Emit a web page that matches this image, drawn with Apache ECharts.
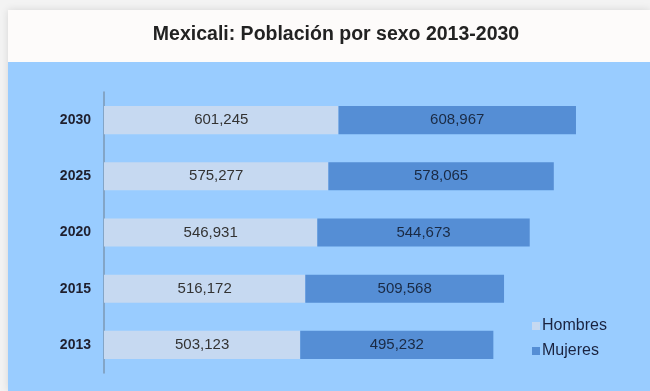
<!DOCTYPE html>
<html>
<head>
<meta charset="utf-8">
<script src="https://cdn.jsdelivr.net/npm/echarts@6/dist/echarts.min.js"></script>
<style>
html,body{margin:0;padding:0;background:#f3f3f3;}
#chart{width:650px;height:391px;}
</style>
</head>
<body>
<div id="chart"></div>
<script>
const categories = ['2013', '2015', '2020', '2025', '2030'];
const hombres = [503123, 516172, 546931, 575277, 601245];
const mujeres = [495232, 509568, 544673, 578065, 608967];
const seriesNames = ['Hombres', 'Mujeres'];

const fmt = v => v.toLocaleString('en-US');
const chart = echarts.init(document.getElementById('chart'));
chart.setOption({
  animation: false,
  backgroundColor: '#f3f3f3',
  graphic: [
    {type: 'rect', shape: {x: 8, y: 10, width: 642, height: 381}, style: {fill: '#fdfbfa', shadowBlur: 8, shadowColor: 'rgba(0,0,0,0.12)'}, z: -10},
    {type: 'rect', shape: {x: 8, y: 62, width: 642, height: 329}, style: {fill: '#99ccff'}, z: -9}
  ],
  title: {
    text: 'Mexicali: Población por sexo 2013-2030',
    left: 331, top: 20, textAlign: 'center',
    textStyle: {fontFamily: 'Liberation Sans, Arial', fontSize: 19.5, fontWeight: 'bold', color: '#222'}
  },
  legend: {
    orient: 'vertical', left: 527, top: 313,
    itemWidth: 8, itemHeight: 8, itemGap: 9,
    icon: 'rect',
    textStyle: {fontFamily: 'Liberation Sans, Arial', fontSize: 16, color: '#1a2340', padding: [0,0,0,-3]},
    data: seriesNames
  },
  grid: {left: 104, right: 19.5, top: 92, bottom: 18, containLabel: false},
  xAxis: {
    type: 'value', min: 0, max: 1350000, show: false
  },
  yAxis: {
    type: 'category', data: categories,
    axisLine: {show: true, onZero: false, lineStyle: {color: '#7d98b5', width: 1.5}},
    axisTick: {show: false},
    axisLabel: {fontFamily: 'Liberation Sans, Arial', fontSize: 14, fontWeight: 'bold', color: '#1f1f2e', margin: 13}
  },
  series: [
    {
      name: seriesNames[0], type: 'bar', stack: 'total', data: hombres, barWidth: '50%',
      itemStyle: {color: '#c6d9f1'},
      label: {show: true, position: 'inside', formatter: p => fmt(p.value), fontFamily: 'Liberation Sans, Arial', fontSize: 15, color: '#333'}
    },
    {
      name: seriesNames[1], type: 'bar', stack: 'total', data: mujeres, barWidth: '50%',
      itemStyle: {color: '#558ed5'},
      label: {show: true, position: 'inside', formatter: p => fmt(p.value), fontFamily: 'Liberation Sans, Arial', fontSize: 15, color: '#1a2a44'}
    }
  ]
});
</script>
</body>
</html>
